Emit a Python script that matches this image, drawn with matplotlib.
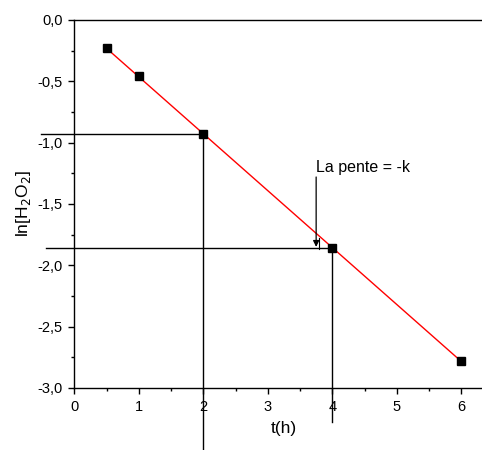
import matplotlib
matplotlib.use("Agg")
import matplotlib.pyplot as plt
from matplotlib.ticker import AutoMinorLocator, FuncFormatter
import numpy as np

plt.rcParams['font.family'] = ['Liberation Sans', 'DejaVu Sans']

# mesures : ln[H2O2] en fonction du temps
t = [0.5, 1.0, 2.0, 4.0, 6.0]
ln_c = [-0.23, -0.46, -0.93, -1.86, -2.78]

# points de lecture de la pente
t_lect = [2.0, 4.0]
ln_lect = [-0.93, -1.86]

fig = plt.figure(figsize=(4.82, 4.50), dpi=100)
ax = fig.add_axes([0.1541, 0.1378, 0.8698, 0.8178])

# droite de régression
a, b = np.polyfit(t, ln_c, 1)
xf = np.array([t[0], t[-1]])
ax.plot(xf, a * xf + b, color='red', lw=1.0, zorder=2)
ax.plot(t, ln_c, 's', color='black', markersize=6, zorder=3)

# lignes de lecture (débordent des axes)
ax.plot([-0.52, t_lect[0]], [ln_lect[0], ln_lect[0]], color='black', lw=1.0, clip_on=False)
ax.plot([t_lect[0], t_lect[0]], [ln_lect[0], -3.52], color='black', lw=1.0, clip_on=False)
ax.plot([-0.44, t_lect[1]], [ln_lect[1], ln_lect[1]], color='black', lw=1.0, clip_on=False)
ax.plot([t_lect[1], t_lect[1]], [ln_lect[1], -3.28], color='black', lw=1.0, clip_on=False)

ax.annotate('', xy=(3.75, -1.85), xytext=(3.75, -1.28),
            arrowprops=dict(arrowstyle='-|>', color='black', lw=0.9,
                            mutation_scale=9, shrinkA=0, shrinkB=0))
ax.plot([3.80, 3.80], [-1.78, -1.87], color='black', lw=0.8)
ax.text(3.74, -1.265, 'La pente = -k', fontsize=11.5, ha='left', va='bottom')

ax.set_xlim(0, 6.5)
ax.set_ylim(-3.0, 0.0)
ax.set_xticks([0, 1, 2, 3, 4, 5, 6])
ax.set_yticks([0.0, -0.5, -1.0, -1.5, -2.0, -2.5, -3.0])
ax.xaxis.set_minor_locator(AutoMinorLocator(2))
ax.yaxis.set_minor_locator(AutoMinorLocator(2))
ax.yaxis.set_major_formatter(FuncFormatter(lambda v, p: f'{v:.1f}'.replace('.', ',').replace('-0,0', '0,0')))
ax.tick_params(which='major', direction='out', length=4.5, width=1.0, labelsize=10.5, pad=4)
ax.tick_params(which='minor', direction='out', length=2.5, width=1.0)

for s in ['right']:
    ax.spines[s].set_visible(False)
for s in ['left', 'bottom', 'top']:
    ax.spines[s].set_linewidth(1.0)

ax.set_xlabel('t(h)', fontsize=12.5, labelpad=5)
ax.set_ylabel('ln[H$_2$O$_2$]', fontsize=12.5, labelpad=3)

fig.savefig('out.png', dpi=100)
